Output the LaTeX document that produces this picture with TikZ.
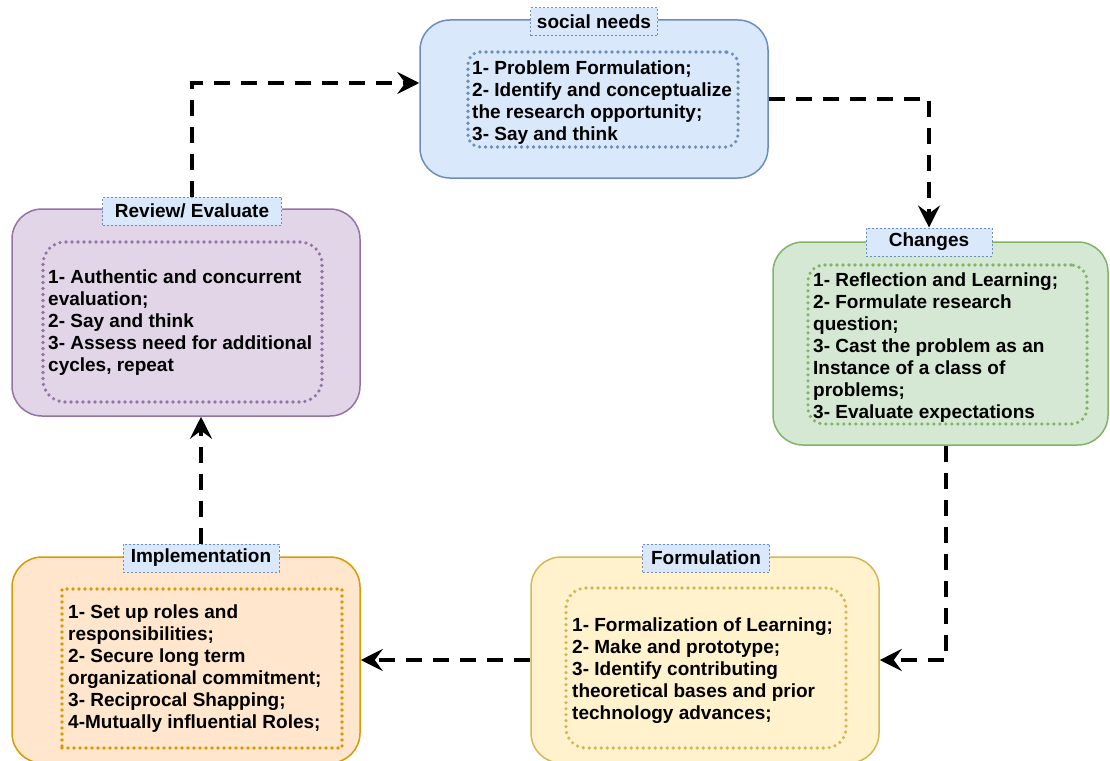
\documentclass[tikz,border=0pt]{standalone}
\usepackage{fontspec}
\setmainfont{Liberation Sans}
\usetikzlibrary{arrows.meta}
\definecolor{blueF}{HTML}{DAE8FC}\definecolor{blueD}{HTML}{6C8EBF}
\definecolor{purpF}{HTML}{E1D5E7}\definecolor{purpD}{HTML}{9673A6}
\definecolor{greenF}{HTML}{D5E8D4}\definecolor{greenD}{HTML}{82B366}
\definecolor{orangeF}{HTML}{FFE6CC}\definecolor{orangeD}{HTML}{D79B00}
\definecolor{yellowF}{HTML}{FFF2CC}\definecolor{yellowD}{HTML}{D6B656}
\tikzset{
  txt/.style={font=\fontsize{19}{22}\selectfont\bfseries},
  phase/.style={draw=#1D, fill=#1F, line width=1.5pt, rounded corners=30pt,
    inner sep=0pt},
  inner/.style={draw=#1D, line width=3.6pt, line cap=round,
    dash pattern=on 0pt off 6pt, inner sep=0pt},
  tag/.style={txt, draw=blueD, fill=blueF, line width=1pt,
    dash pattern=on 2pt off 2pt, inner sep=0pt, minimum height=28pt},
  items/.style={txt, align=left, anchor=north west, inner sep=0pt},
  conn/.style={draw=black, line width=4pt, dash pattern=on 16pt off 11pt,
    -{Stealth[length=22pt,width=22pt,inset=8pt]}},
}
\begin{document}
\begin{tikzpicture}[x=1pt,y=-1pt]
\useasboundingbox (0,0) rectangle (1110,760);

% social needs
\node[phase=blue, minimum width=348pt, minimum height=158pt] (social) at (594,99) {};
\node[inner=blue, rounded corners=12pt, minimum width=270pt, minimum height=95pt] (socialin) at (603,99.5) {};
\node[items] (socialtx) at (472,61) {1- Problem Formulation;\\2- Identify and conceptualize\\the research opportunity;\\3- Say and think};
\node[tag, minimum width=127pt] (sociallbl) at (594,22) {social needs};

% Review / Evaluate
\node[phase=purp, minimum width=348pt, minimum height=207pt] (rev) at (186,312.5) {};
\node[inner=purp, rounded corners=22pt, minimum width=279pt, minimum height=160pt] (revin) at (182.5,322) {};
\node[items] (revtx) at (48,270) {1- Authentic and concurrent\\evaluation;\\2- Say and think\\3- Assess need for additional\\cycles, repeat};
\node[tag, minimum width=179pt] (revlbl) at (192,211) {Review/ Evaluate};

% Changes
\node[phase=green, minimum width=335pt, minimum height=203pt] (chg) at (940.5,343.5) {};
\node[inner=green, rounded corners=16pt, minimum width=279pt, minimum height=159pt] (chgin) at (947.5,344.5) {};
\node[items] (chgtx) at (813,273) {1- Reflection and Learning;\\2- Formulate research\\question;\\3- Cast the problem as an\\Instance of a class of\\problems;\\3- Evaluate expectations};
\node[tag, minimum width=126pt] (chglbl) at (929,242) {Changes};

% Implementation
\node[phase=orange, minimum width=348pt, minimum height=206pt] (impl) at (186,660) {};
\node[inner=orange, minimum width=280pt, minimum height=159pt] (implin) at (202,668.5) {};
\node[items] (impltx) at (68,605) {1- Set up roles and\\responsibilities;\\2- Secure long term\\organizational commitment;\\3- Reciprocal Shapping;\\4-Mutually influential Roles;};
\node[tag, minimum width=156pt] (impllbl) at (201,558) {Implementation};

% Formulation
\node[phase=yellow, minimum width=348pt, minimum height=206pt] (form) at (705,660) {};
\node[inner=yellow, rounded corners=20pt, minimum width=280pt, minimum height=160pt] (formin) at (706,668) {};
\node[items] (formtx) at (572,618) {1- Formalization of Learning;\\2- Make and prototype;\\3- Identify contributing\\theoretical bases and prior\\technology advances;};
\node[tag, minimum width=127pt] (formlbl) at (706,558) {Formulation};

% cycle of dashed connectors
\coordinate (k1) at (192,83);
\draw[conn] (revlbl.north) -- (k1) -- (k1 -| social.west);
\draw[conn] (social.east) -| (chglbl.north);
\coordinate (k3) at (946,660);
\draw[conn] (k3 |- chg.south) -- (k3) -- (form.east);
\draw[conn] (form.west) -- (impl.east);
\draw[conn] (impllbl.north) -- (impllbl.north |- rev.south);
\end{tikzpicture}
\end{document}
